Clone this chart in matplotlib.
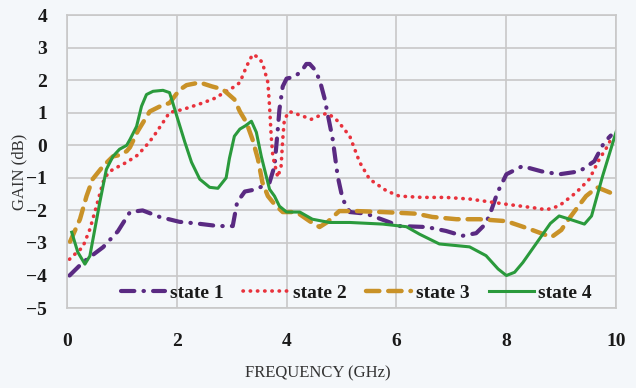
import matplotlib
matplotlib.use("Agg")
import matplotlib.pyplot as plt

# Gain vs frequency for the four switching states
freq_s1 = [0.05, 0.29, 0.66, 0.93, 1.15, 1.38, 1.69, 2.05, 2.36, 2.75, 3.02, 3.1, 3.24, 3.45,
           3.69, 3.78, 3.84, 3.87, 3.93, 4.0, 4.15, 4.28, 4.36, 4.42, 4.5, 4.6, 4.69, 4.84,
           4.93, 5.02, 5.15, 5.45, 5.82, 6.05, 6.55, 6.9, 7.2, 7.45, 7.6, 7.69, 7.84, 8.0,
           8.29, 8.64, 8.96, 9.33, 9.6, 9.78, 9.9]
gain_s1 = [-4.0, -3.6, -3.13, -2.64, -2.05, -2.0, -2.2, -2.35, -2.4, -2.48, -2.48, -1.75,
           -1.42, -1.35, -1.14, -0.64, 0.49, 1.1, 1.81, 2.05, 2.11, 2.3, 2.5, 2.5, 2.35, 2.02,
           1.45, 0.18, -0.95, -1.65, -2.05, -2.1, -2.33, -2.48, -2.51, -2.63, -2.78, -2.7,
           -2.45, -2.17, -1.44, -0.89, -0.64, -0.8, -0.89, -0.8, -0.49, 0.09, 0.3]

freq_s2 = [0.05, 0.09, 0.29, 0.42, 0.54, 0.66, 0.75, 0.84, 1.09, 1.29, 1.45, 1.57, 1.75, 1.87,
           2.11, 2.47, 2.7, 2.9, 3.05, 3.15, 3.27, 3.38, 3.47, 3.56, 3.66, 3.69, 3.72, 3.75,
           3.84, 3.9, 3.93, 3.96, 4.05, 4.29, 4.45, 4.65, 4.75, 4.9, 5.0, 5.15, 5.33, 5.51,
           5.82, 6.05, 6.47, 6.9, 7.33, 8.0, 8.5, 8.73, 8.96, 9.27, 9.51, 9.69, 9.84, 9.92]
gain_s2 = [-3.5, -3.43, -3.13, -2.58, -1.87, -1.13, -0.85, -0.74, -0.52, -0.3, 0.0, 0.25,
           0.7, 1.01, 1.1, 1.3, 1.45, 1.66, 1.8, 1.93, 2.42, 2.79, 2.72, 2.54, 1.93, 1.2,
           0.28, -0.34, -0.98, -0.64, 0.18, 0.8, 1.04, 0.9, 0.8, 0.95, 0.98, 0.8, 0.6, 0.28,
           -0.52, -1.04, -1.4, -1.56, -1.6, -1.6, -1.65, -1.81, -1.92, -1.98, -1.86, -1.45,
           -1.04, -0.43, -0.03, 0.25]

freq_s3 = [0.06, 0.24, 0.36, 0.47, 0.66, 0.84, 0.96, 1.09, 1.15, 1.29, 1.51, 1.7, 1.87, 1.96,
           2.05, 2.18, 2.42, 2.64, 2.84, 3.05, 3.15, 3.27, 3.38, 3.48, 3.56, 3.66, 3.78, 3.93,
           4.18, 4.42, 4.6, 4.75, 4.84, 4.96, 5.27, 5.75, 6.36, 6.65, 7.09, 7.51, 8.0, 8.42,
           8.82, 9.0, 9.09, 9.27, 9.45, 9.65, 9.87, 9.95]
gain_s3 = [-2.96, -2.27, -1.56, -1.04, -0.64, -0.34, -0.3, -0.18, -0.06, 0.43, 1.04, 1.2, 1.3,
           1.5, 1.7, 1.85, 1.93, 1.81, 1.72, 1.41, 1.04, 0.7, 0.18, -0.43, -1.14, -1.56, -1.81,
           -2.05, -2.05, -2.33, -2.51, -2.35, -2.2, -2.02, -2.02, -2.05, -2.1, -2.2, -2.27,
           -2.27, -2.33, -2.57, -2.82, -2.6, -2.37, -1.96, -1.56, -1.29, -1.44, -1.5]

freq_s4 = [0.09, 0.2, 0.33, 0.42, 0.51, 0.6, 0.72, 0.84, 0.96, 1.09, 1.15, 1.27, 1.36, 1.45,
           1.57, 1.75, 1.87, 1.93, 2.02, 2.15, 2.27, 2.42, 2.6, 2.75, 2.9, 2.96, 3.05, 3.15,
           3.25, 3.36, 3.45, 3.54, 3.63, 3.69, 3.78, 3.87, 4.0, 4.24, 4.47, 4.78, 5.15, 5.75,
           6.18, 6.42, 6.78, 7.33, 7.63, 7.85, 8.0, 8.15, 8.3, 8.6, 8.8, 8.96, 9.15, 9.42,
           9.55, 9.75, 10.0]
gain_s4 = [-2.67, -3.28, -3.65, -3.4, -2.58, -1.76, -0.74, -0.34, -0.12, 0.0, 0.18, 0.58, 1.2,
           1.56, 1.66, 1.69, 1.62, 1.3, 0.8, 0.09, -0.52, -1.04, -1.29, -1.32, -1.0, -0.4,
           0.28, 0.5, 0.6, 0.74, 0.4, -0.34, -0.95, -1.35, -1.56, -1.87, -2.05, -2.05, -2.27,
           -2.37, -2.37, -2.42, -2.5, -2.73, -3.03, -3.12, -3.39, -3.8, -4.0, -3.9, -3.6,
           -2.88, -2.4, -2.17, -2.27, -2.42, -2.17, -0.95, 0.43]

x_ticks = [0, 2, 4, 6, 8, 10]
y_ticks = [-5, -4, -3, -2, -1, 0, 1, 2, 3, 4]

plt.rcParams['font.family'] = ['Liberation Serif', 'DejaVu Serif']

bg = '#f4f7fa'
fig = plt.figure(figsize=(6.36, 3.88), dpi=100, facecolor=bg)
ax = fig.add_axes([0.105, 0.206, 0.864, 0.755], facecolor=bg)

ax.plot(freq_s1, gain_s1, color='#5a2a82', lw=3.0, linestyle=(0, (3.2, 2.2, 0.1, 2.2)),
        dash_capstyle='round', solid_joinstyle='round', label='state 1')
ax.plot(freq_s2, gain_s2, color='#e8323c', lw=2.6, linestyle=(0, (0.1, 1.9)),
        dash_capstyle='round', label='state 2')
ax.plot(freq_s3, gain_s3, color='#c99228', lw=3.2, linestyle=(0, (3.0, 2.0)),
        dash_capstyle='round', label='state 3')
ax.plot(freq_s4, gain_s4, color='#2a9a3c', lw=2.2, solid_joinstyle='round', label='state 4')

ax.set_xlim(0, 10)
ax.set_ylim(-5, 4)
ax.set_xticks(x_ticks)
ax.set_yticks(y_ticks)
ax.grid(True, color='#c8c8c8', lw=1.2)
ax.set_axisbelow(True)
for s in ax.spines.values():
    s.set_color('#c8c8c8')
    s.set_linewidth(1.2)
ax.tick_params(length=0, labelsize=14)
ax.tick_params(axis='x', pad=18)
ax.tick_params(axis='y', pad=14)
for lab in ax.get_xticklabels() + ax.get_yticklabels():
    lab.set_fontweight('bold')
    lab.set_color('#1a1a1a')

fig.text(0.5, 1 - 373 / 388, 'FREQUENCY (GHz)', ha='center', va='center',
         fontsize=12, color='#333333')
fig.text(19 / 636, 1 - 172 / 388, 'GAIN (dB)', ha='center', va='center',
         rotation=90, fontsize=12, color='#333333')

leg = ax.legend(loc='center', bbox_to_anchor=(0.527, 0.05), ncol=4, frameon=False,
                handlelength=2.3, handletextpad=0.25, columnspacing=1.0,
                prop={'weight': 'bold', 'size': 14})
for t in leg.get_texts():
    t.set_color('#1a1a1a')

fig.savefig('out.png', dpi=100, facecolor=bg)
